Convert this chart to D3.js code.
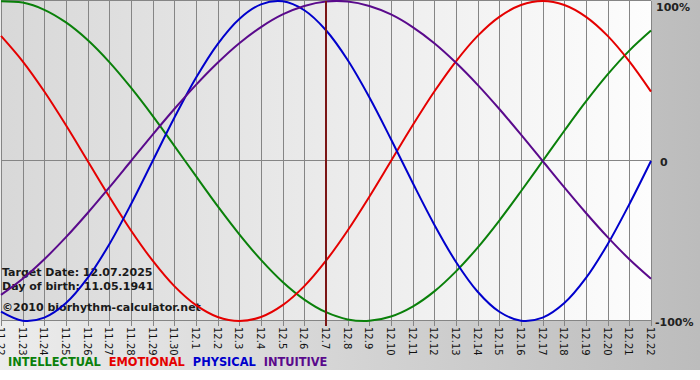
<!DOCTYPE html>
<html>
<head>
<meta charset="utf-8">
<script src="https://cdn.jsdelivr.net/npm/d3@7"></script>
<style>
  body { margin: 0; background: #fff; }
  text { font-family: "DejaVu Sans", Verdana, sans-serif; }
</style>
</head>
<body>
<div id="chart"></div>
<script>
// days shown on the x axis (month.day)
const days = ["11.22","11.23","11.24","11.25","11.26","11.27","11.28","11.29","11.30",
    "12.1","12.2","12.3","12.4","12.5","12.6","12.7","12.8","12.9","12.10","12.11","12.12",
    "12.13","12.14","12.15","12.16","12.17","12.18","12.19","12.20","12.21","12.22"];

const intellectual = [0.999,0.990,0.945,0.866,0.756,0.618,0.458,0.282,0.095,-0.095,-0.282,
    -0.458,-0.618,-0.756,-0.866,-0.945,-0.990,-0.999,-0.972,-0.910,-0.815,-0.690,-0.541,
    -0.372,-0.189,0,0.189,0.372,0.541,0.690,0.815];
const emotional = [0.782,0.623,0.434,0.223,0,-0.223,-0.434,-0.623,-0.782,-0.901,-0.975,
    -1,-0.975,-0.901,-0.782,-0.623,-0.434,-0.223,0,0.223,0.434,0.623,0.782,0.901,0.975,
    1,0.975,0.901,0.782,0.623,0.434];
const physical = [-0.942,-0.998,-0.979,-0.888,-0.731,-0.520,-0.270,0,0.270,0.520,0.731,
    0.888,0.979,0.998,0.942,0.817,0.631,0.398,0.136,-0.136,-0.398,-0.631,-0.817,-0.942,
    -0.998,-0.979,-0.888,-0.731,-0.520,-0.270,0];
const intuitive = [-0.837,-0.736,-0.614,-0.476,-0.325,-0.165,0,0.165,0.325,0.476,0.614,
    0.736,0.837,0.916,0.969,0.997,0.997,0.969,0.916,0.837,0.736,0.614,0.476,0.325,0.165,
    0,-0.165,-0.325,-0.476,-0.614,-0.736];

const targetIndex = 15;
const yTicks = [{v: 1, t: "100%"}, {v: 0, t: "0"}, {v: -1, t: "-100%"}];
const infoLines = ["Target Date: 12.07.2025", "Day of birth: 11.05.1941", "\u00a92010 biorhythm-calculator.net"];

const series = [
    {name: "INTELLECTUAL", values: intellectual, color: "#0a800a"},
    {name: "EMOTIONAL", values: emotional, color: "#e50000"},
    {name: "PHYSICAL", values: physical, color: "#0000cc"},
    {name: "INTUITIVE", values: intuitive, color: "#5a0a8c"}
];

const width = 700, height = 380;

let svg = d3.select("#chart").append("svg")
    .attr("width", width)
    .attr("height", height);

const defs = svg.append("defs");
const outerGrad = defs.append("linearGradient").attr("id", "outerGrad");
outerGrad.append("stop").attr("offset", "0%").attr("stop-color", "#ececec");
outerGrad.append("stop").attr("offset", "100%").attr("stop-color", "#bcbcbc");
const plotGrad = defs.append("linearGradient").attr("id", "plotGrad");
plotGrad.append("stop").attr("offset", "0%").attr("stop-color", "#d8d8d8");
plotGrad.append("stop").attr("offset", "100%").attr("stop-color", "#fdfdfd");

const x = d3.scaleLinear().domain([0, days.length - 1]).range([1, 651]);
const y = d3.scaleLinear().domain([-1, 1]).range([321, 1]);

svg.append("rect")
    .attr("width", width).attr("height", 370)
    .attr("fill", "url(#outerGrad)");

svg.append("rect")
    .attr("x", x(0)).attr("y", y(1))
    .attr("width", x(days.length - 1) - x(0)).attr("height", y(-1) - y(1))
    .attr("fill", "url(#plotGrad)");

// vertical day lines
svg.append("g")
    .selectAll("line")
    .data(days)
    .enter().append("line")
    .attr("x1", (d, i) => Math.round(x(i)) + 0.5)
    .attr("x2", (d, i) => Math.round(x(i)) + 0.5)
    .attr("y1", y(1))
    .attr("y2", y(-1) + 5)
    .attr("stroke", "#858585");

// horizontal lines
svg.append("g")
    .selectAll("line")
    .data(yTicks)
    .enter().append("line")
    .attr("x1", x(0))
    .attr("x2", x(days.length - 1))
    .attr("y1", d => Math.round(y(d.v)) - 0.5)
    .attr("y2", d => Math.round(y(d.v)) - 0.5)
    .attr("stroke", "#858585");

svg.append("g")
    .selectAll("text")
    .data(yTicks)
    .enter().append("text")
    .attr("x", d => d.v === 0 ? 660 : (d.v > 0 ? 656 : 655))
    .attr("y", d => y(d.v) + (d.v > 0 ? 10 : 5))
    .attr("font-size", 11)
    .attr("font-weight", "bold")
    .attr("fill", "#222")
    .text(d => d.t);

// day labels, rotated
svg.append("g")
    .selectAll("text")
    .data(days)
    .enter().append("text")
    .attr("transform", (d, i) => `translate(${x(i) - 4}, 327) rotate(90)`)
    .attr("font-size", 10)
    .attr("fill", "#111")
    .text(d => d);

// info text
svg.append("g")
    .selectAll("text")
    .data(infoLines)
    .enter().append("text")
    .attr("x", 2)
    .attr("y", (d, i) => [276, 290, 311][i])
    .attr("font-size", 11)
    .attr("font-weight", "bold")
    .attr("fill", "#1a1a1a")
    .text(d => d);

const line = d3.line()
    .x((d, i) => x(i))
    .y(d => y(d))
    .curve(d3.curveCatmullRom);

svg.append("g")
    .selectAll("path")
    .data(series)
    .enter().append("path")
    .attr("d", d => line(d.values))
    .attr("fill", "none")
    .attr("stroke", d => d.color)
    .attr("stroke-width", 2);

// target day marker
svg.append("line")
    .attr("x1", x(targetIndex)).attr("x2", x(targetIndex))
    .attr("y1", y(1)).attr("y2", y(-1) + 5)
    .attr("stroke", "#7a1515")
    .attr("stroke-width", 2);

// legend
const legend = svg.append("text")
    .attr("x", 8)
    .attr("y", 366)
    .attr("font-size", 11.4)
    .attr("font-weight", "bold");
series.forEach((s, i) => {
    legend.append("tspan")
        .attr("dx", i ? 4 : 0)
        .attr("fill", s.color)
        .text((i ? " " : "") + s.name);
});
</script>
</body>
</html>
